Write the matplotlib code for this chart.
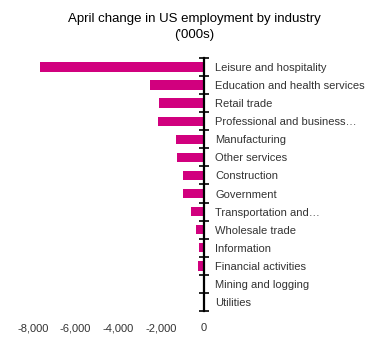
import matplotlib
matplotlib.use("Agg")
import matplotlib.pyplot as plt
import numpy as np

# April change in US payrolls, thousands
INDUSTRIES = [
    "Leisure and hospitality",
    "Education and health services",
    "Retail trade",
    "Professional and business\u2026",
    "Manufacturing",
    "Other services",
    "Construction",
    "Government",
    "Transportation and\u2026",
    "Wholesale trade",
    "Information",
    "Financial activities",
    "Mining and logging",
    "Utilities",
]
CHANGE = [-7653, -2544, -2107, -2128, -1330, -1282, -975, -980,
          -584, -363, -254, -262, -46, -1]
XTICKS = [-8000, -6000, -4000, -2000, 0]

BAR_COLOUR = "#d1007e"

plt.rcParams["font.family"] = ["Liberation Sans", "DejaVu Sans"]

fig = plt.figure(figsize=(3.77, 3.41), dpi=100)
ax = fig.add_axes([0.053, 0.088, 0.488, 0.742])

y = np.arange(len(INDUSTRIES))
ax.barh(y, CHANGE, height=0.52, color=BAR_COLOUR)

ax.set_xlim(-8600, 0)
ax.set_ylim(len(INDUSTRIES) - 0.5, -0.5)

# axis line on the zero side, category labels to the right of it
for side in ["left", "top", "bottom"]:
    ax.spines[side].set_visible(False)
ax.spines["right"].set_linewidth(1.6)
ax.spines["right"].set_color("black")

ax.yaxis.tick_right()
ax.set_yticks(y)
ax.set_yticklabels(INDUSTRIES, fontsize=8, color="#333333")
ax.tick_params(axis="y", which="major", length=0, pad=8)
ax.set_yticks(np.arange(-0.5, len(INDUSTRIES)), minor=True)
ax.tick_params(axis="y", which="minor", direction="inout", length=7,
               width=1.2, color="black", right=True, left=False)

ax.set_xticks(XTICKS)
ax.set_xticklabels([f"{v:,}" for v in XTICKS], fontsize=8, color="#333333")
ax.tick_params(axis="x", length=0, pad=9)

fig.text(0.515, 0.945, "April change in US employment by industry",
         ha="center", va="center", fontsize=9.5)
fig.text(0.515, 0.898, "('000s)", ha="center", va="center", fontsize=9.5)

fig.savefig("out.png", dpi=100, facecolor="white")
